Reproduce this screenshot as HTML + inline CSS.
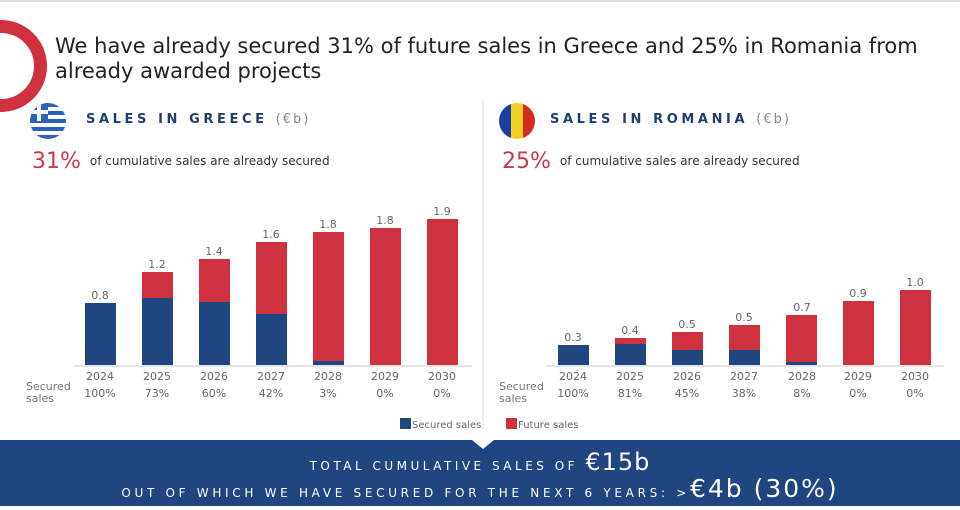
<!DOCTYPE html>
<html><head><meta charset="utf-8"><style>
body{margin:0;width:960px;height:510px;background:#fff;overflow:hidden;font-family:"DejaVu Sans","Liberation Sans",sans-serif;position:relative}
.a{position:absolute;white-space:nowrap}
</style></head><body>
<div class="a" style="left:0;top:0;width:960px;height:2px;background:#ddd"></div>
<div class="a" style="left:-45px;top:20px;width:66px;height:66px;border:13px solid #d0313f;border-radius:50%"></div>
<div class="a" style="left:55px;top:34px;font-size:21px;color:#222;line-height:25px">We have already secured 31% of future sales in Greece and 25% in Romania from<br>already awarded projects</div>
<svg class="a" style="left:0;top:0" width="960" height="510">
<defs><clipPath id="cg"><circle cx="48" cy="121" r="18"/></clipPath><clipPath id="cr"><circle cx="517" cy="121" r="18"/></clipPath></defs>
<g clip-path="url(#cg)"><rect x="30" y="103" width="36" height="36" fill="#2a63b8"/>
<rect x="30" y="107" width="36" height="4" fill="#fff"/><rect x="30" y="115" width="36" height="4" fill="#fff"/><rect x="30" y="123" width="36" height="4" fill="#fff"/><rect x="30" y="131" width="36" height="4" fill="#fff"/>
<rect x="30" y="103" width="18" height="18" fill="#2a63b8"/><rect x="30" y="110" width="18" height="4" fill="#fff"/><rect x="37" y="103" width="4" height="18" fill="#fff"/></g>
<g clip-path="url(#cr)"><rect x="499" y="103" width="12" height="36" fill="#1b3fa0"/><rect x="511" y="103" width="12" height="36" fill="#f5d020"/><rect x="523" y="103" width="12" height="36" fill="#d52b1e"/></g>
<line x1="483" y1="100" x2="483" y2="430" stroke="#ddd"/>
<line x1="74" y1="366" x2="472" y2="366" stroke="#ccc"/>
<line x1="546" y1="366" x2="944" y2="366" stroke="#ccc"/>
<g font-family="DejaVu Sans,sans-serif" font-size="11" fill="#666" text-anchor="middle">
<rect x="85" y="303" width="31" height="62" fill="#1f4680"/><text x="100" y="299">0.8</text><text x="100" y="380">2024</text><text x="100" y="397">100%</text>
<rect x="142" y="272" width="31" height="26" fill="#d0313f"/><rect x="142" y="298" width="31" height="67" fill="#1f4680"/><text x="157" y="268">1.2</text><text x="157" y="380">2025</text><text x="157" y="397">73%</text>
<rect x="199" y="259" width="31" height="43" fill="#d0313f"/><rect x="199" y="302" width="31" height="63" fill="#1f4680"/><text x="214" y="255">1.4</text><text x="214" y="380">2026</text><text x="214" y="397">60%</text>
<rect x="256" y="242" width="31" height="72" fill="#d0313f"/><rect x="256" y="314" width="31" height="51" fill="#1f4680"/><text x="271" y="238">1.6</text><text x="271" y="380">2027</text><text x="271" y="397">42%</text>
<rect x="313" y="232" width="31" height="129" fill="#d0313f"/><rect x="313" y="361" width="31" height="4" fill="#1f4680"/><text x="328" y="228">1.8</text><text x="328" y="380">2028</text><text x="328" y="397">3%</text>
<rect x="370" y="228" width="31" height="137" fill="#d0313f"/><text x="385" y="224">1.8</text><text x="385" y="380">2029</text><text x="385" y="397">0%</text>
<rect x="427" y="219" width="31" height="146" fill="#d0313f"/><text x="442" y="215">1.9</text><text x="442" y="380">2030</text><text x="442" y="397">0%</text>
<rect x="558" y="345" width="31" height="20" fill="#1f4680"/><text x="573" y="341">0.3</text><text x="573" y="380">2024</text><text x="573" y="397">100%</text>
<rect x="615" y="338" width="31" height="6" fill="#d0313f"/><rect x="615" y="344" width="31" height="21" fill="#1f4680"/><text x="630" y="334">0.4</text><text x="630" y="380">2025</text><text x="630" y="397">81%</text>
<rect x="672" y="332" width="31" height="18" fill="#d0313f"/><rect x="672" y="350" width="31" height="15" fill="#1f4680"/><text x="687" y="328">0.5</text><text x="687" y="380">2026</text><text x="687" y="397">45%</text>
<rect x="729" y="325" width="31" height="25" fill="#d0313f"/><rect x="729" y="350" width="31" height="15" fill="#1f4680"/><text x="744" y="321">0.5</text><text x="744" y="380">2027</text><text x="744" y="397">38%</text>
<rect x="786" y="315" width="31" height="47" fill="#d0313f"/><rect x="786" y="362" width="31" height="3" fill="#1f4680"/><text x="802" y="311">0.7</text><text x="802" y="380">2028</text><text x="802" y="397">8%</text>
<rect x="843" y="301" width="31" height="64" fill="#d0313f"/><text x="858" y="297">0.9</text><text x="858" y="380">2029</text><text x="858" y="397">0%</text>
<rect x="900" y="290" width="31" height="75" fill="#d0313f"/><text x="915" y="286">1.0</text><text x="915" y="380">2030</text><text x="915" y="397">0%</text>
</g>
<g font-family="DejaVu Sans,sans-serif" font-size="11" fill="#777">
<text x="26" y="390">Secured</text><text x="26" y="402">sales</text>
<text x="499" y="390">Secured</text><text x="499" y="402">sales</text>
</g>
<rect x="400" y="418" width="11" height="11" fill="#1f4680"/><text x="412" y="428" font-family="DejaVu Sans,sans-serif" font-size="10" fill="#666">Secured sales</text>
<rect x="506" y="418" width="11" height="11" fill="#d0313f"/><text x="518" y="428" font-family="DejaVu Sans,sans-serif" font-size="10" fill="#666">Future sales</text>
<path d="M0 440 L472 440 L483 449 L494 440 L960 440 L960 506 L0 506 Z" fill="#1f4680"/>
</svg>
<div class="a" style="left:86px;top:112px;font-size:13px;font-weight:bold;letter-spacing:3.6px;color:#1f3f6e">SALES IN GREECE <span style="font-weight:normal;color:#888;letter-spacing:2px">(€b)</span></div>
<div class="a" style="left:550px;top:112px;font-size:13px;font-weight:bold;letter-spacing:3.6px;color:#1f3f6e">SALES IN ROMANIA <span style="font-weight:normal;color:#888;letter-spacing:2px">(€b)</span></div>
<div class="a" style="left:32px;top:149px;font-size:22px;color:#c83a4a">31%<span style="font-size:12px;color:#333;margin-left:9px;vertical-align:3px">of cumulative sales are already secured</span></div>
<div class="a" style="left:502px;top:149px;font-size:22px;color:#c83a4a">25%<span style="font-size:12px;color:#333;margin-left:9px;vertical-align:3px">of cumulative sales are already secured</span></div>
<div class="a" style="left:0;width:960px;top:448px;text-align:center;color:#fff;font-size:12px;letter-spacing:3.5px;padding-left:0">TOTAL CUMULATIVE SALES OF <span style="font-size:24px;letter-spacing:1px">€15b</span></div>
<div class="a" style="left:0;width:960px;top:474px;text-align:center;color:#fff;font-size:12px;letter-spacing:3.7px;padding-left:0">OUT OF WHICH WE HAVE SECURED FOR THE NEXT 6 YEARS: &gt;<span style="font-size:25px;letter-spacing:2px">€4b (30%)</span></div>
</body></html>
